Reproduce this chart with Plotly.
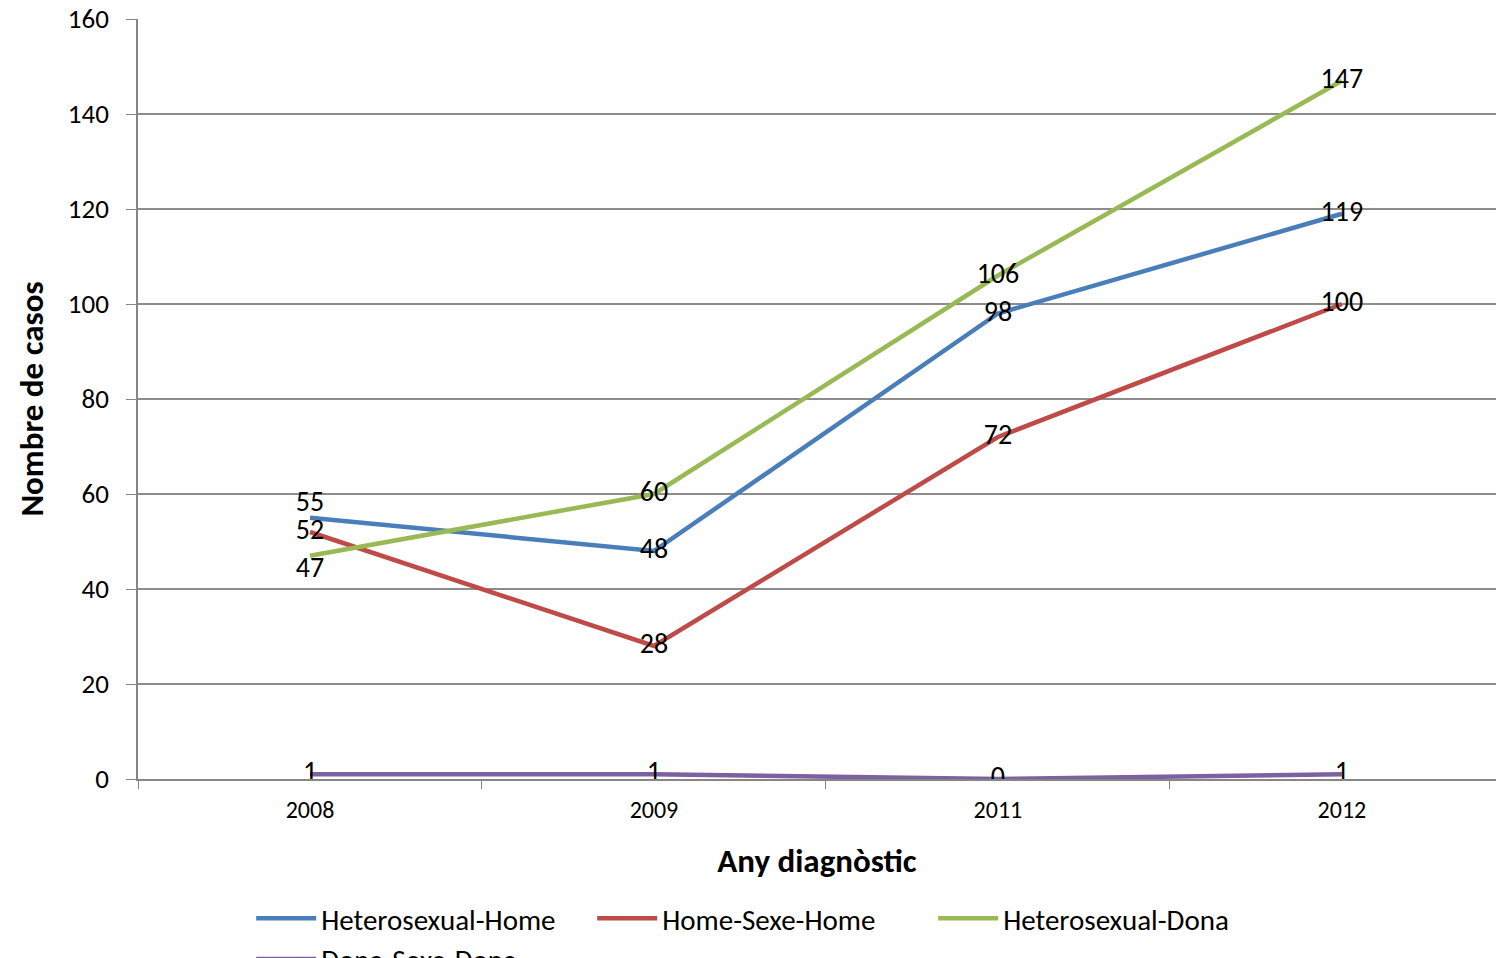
import plotly.graph_objects as go

years = ["2008", "2009", "2011", "2012"]
het_home = [55, 48, 98, 119]
home_home = [52, 28, 72, 100]
het_dona = [47, 60, 106, 147]
dona_dona = [1, 1, 0, 1]

series = [
    ("Heterosexual-Home", het_home, "#4A7EBB", ["top center", "middle center", "middle center", "middle center"]),
    ("Home-Sexe-Home", home_home, "#BE4B48", ["middle center"] * 4),
    ("Heterosexual-Dona", het_dona, "#98B954", ["bottom center", "middle center", "middle center", "middle center"]),
    ("Dona-Sexe-Dona", dona_dona, "#7D60A0", ["middle center"] * 4),
]

font_family = "Carlito, Calibri, Lato, sans-serif"

fig = go.Figure()
for name, vals, color, pos in series:
    fig.add_trace(go.Scatter(
        x=years, y=vals, name=name, mode="lines+text",
        line=dict(color=color, width=4.5),
        text=[str(v) for v in vals], textposition=pos,
        textfont=dict(size=28, color="black", family=font_family),
    ))

fig.update_layout(
    width=1496, height=958,
    margin=dict(l=138, r=0, t=19, b=179, autoexpand=False),
    paper_bgcolor="white", plot_bgcolor="white",
    font=dict(family=font_family, color="black"),
    showlegend=True,
    legend=dict(orientation="h", x=0.46, xanchor="center",
                y=-0.2105, yanchor="middle",
                font=dict(size=29, family=font_family), itemwidth=60, entrywidth=266,
                tracegroupgap=0),
    xaxis=dict(type="category", range=[-0.5, 3.448], showgrid=False, automargin=False,
               showline=True, linecolor="#868686", linewidth=1.5,
               ticks="outside", tickson="boundaries", ticklen=8, tickcolor="#868686",
               tickfont=dict(size=24), ticklabelstandoff=8, ticklabeloverflow="allow",
               title=dict(text="<b>Any diagnòstic</b>", font=dict(size=33), standoff=26)),
    yaxis=dict(range=[0, 160], dtick=20, showgrid=True, gridcolor="#8C8C8C", gridwidth=1.5,
               zeroline=False, showline=True, linecolor="#868686", linewidth=1.5,
               automargin=False,
               ticks="outside", ticklen=10, tickcolor="#868686",
               tickfont=dict(size=27), ticklabelstandoff=12, ticklabeloverflow="allow",
               title=dict(text="<b>Nombre de casos</b>", font=dict(size=33), standoff=14)),
)

fig.write_html("out.html", config={"displayModeBar": False},
               post_script="document.body.style.margin='0';document.body.style.overflow='hidden';")
